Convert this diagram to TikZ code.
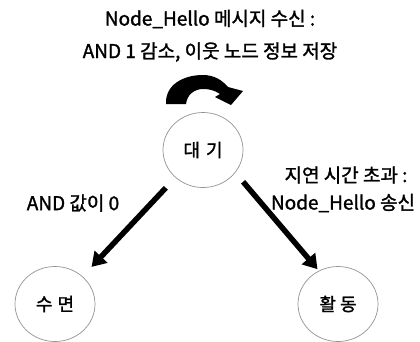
\documentclass[tikz,border=0pt]{standalone}
\usepackage{fontspec}
\setmainfont{Noto Sans CJK KR}
\newfontfamily\krfont[FakeBold=1.5]{Noto Sans CJK KR}
\usetikzlibrary{shapes.geometric,arrows.meta}
\tikzset{
  state/.style={ellipse, draw=gray!85, line width=0.7pt, minimum width=80pt, minimum height=75pt, inner sep=0pt, font=\krfont\fontsize{18}{20}\selectfont},
  lbl/.style={font=\krfont\fontsize{19}{21}\selectfont, inner sep=0pt},
  bigarrow/.style={line width=5.5pt, -{Triangle[length=14pt,width=17pt]}},
}
\begin{document}
\begin{tikzpicture}[x=1pt,y=-1pt]
\useasboundingbox (0,0) rectangle (420,341);
\node[state] (wait) at (203,150) {대\hspace{6pt}기};
\node[state] (sleep) at (55,304) {수\hspace{5pt}면};
\node[state] (active) at (338,304) {활\hspace{4pt}동};
\node[lbl] (t1) at (210,19) {Node\_Hello 메시지 수신 :};
\node[lbl] (t2) at (210,52) {AND 1 감소, 이웃 노드 정보 저장};
\node[lbl] (l1) at (73,203) {AND 값이 0};
\node[lbl] (r1) at (346,175) {지연 시간 초과 :};
\node[lbl] (r2) at (343,203) {Node\_Hello 송신};
\draw[bigarrow, shorten <=14pt, shorten >=13pt] (wait.225) -- (sleep.45);
\draw[bigarrow, shorten <=12pt, shorten >=2pt] (wait.-35) -- (active.120);
\fill (166,104) .. controls (165,85) and (183,75) .. (203,75)
  .. controls (214,75) and (222,80) .. (228,87) -- (243,91) -- (231,105) -- (215,97)
  -- (220,94) .. controls (214,90) and (209,89) .. (203,89)
  .. controls (194,89) and (187,95) .. (186,104) -- cycle;
\end{tikzpicture}
\end{document}
